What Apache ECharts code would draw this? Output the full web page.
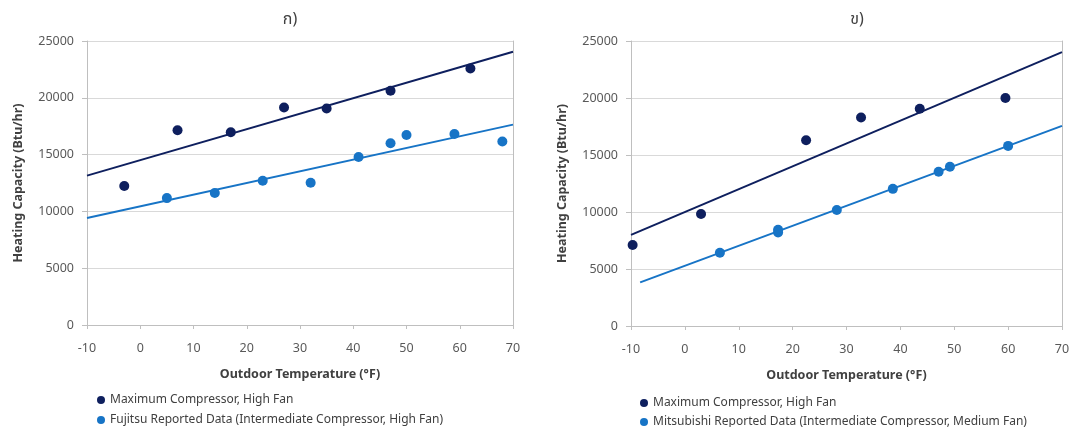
<!DOCTYPE html>
<html>
<head>
<meta charset="utf-8">
<script src="https://cdn.jsdelivr.net/npm/echarts@6/dist/echarts.min.js"></script>
<style>
html,body{margin:0;padding:0;background:#fff;}
#c{width:1076px;height:427px;}
</style>
</head>
<body>
<div id="c"></div>
<script>
// ---- data ----
const titles = ['ก)', 'ข)'];
const xTicks = [-10, 0, 10, 20, 30, 40, 50, 60, 70];
const yTicks = [0, 5000, 10000, 15000, 20000, 25000];
const xName = 'Outdoor Temperature (°F)';
const yName = 'Heating Capacity (Btu/hr)';

const nameMax = 'Maximum Compressor, High Fan';
const nameFujitsu = 'Fujitsu Reported Data (Intermediate Compressor, High Fan)';
const nameMitsu = 'Mitsubishi Reported Data (Intermediate Compressor, Medium Fan)';

// chart ก)
const aMaxX = [-3, 7, 17, 27, 35, 47, 62];
const aMaxY = [12230, 17140, 16970, 19150, 19060, 20620, 22580];
const aFujX = [5, 14, 23, 32, 41, 47, 50, 59, 68];
const aFujY = [11170, 11620, 12700, 12520, 14790, 16000, 16730, 16820, 16150];
const aMaxTrendX = [-10, 70];
const aMaxTrendY = [13150, 24060];
const aFujTrendX = [-10, 70];
const aFujTrendY = [9420, 17640];

// chart ข)
const bMaxX = [-9.7, 3, 22.5, 32.7, 43.6, 59.5];
const bMaxY = [7100, 9820, 16290, 18290, 19060, 20000];
const bMitX = [6.5, 17.3, 17.3, 28.2, 38.6, 47.1, 49.2, 60];
const bMitY = [6430, 8450, 8200, 10180, 12030, 13530, 13970, 15800];
const bMaxTrendX = [-10, 70];
const bMaxTrendY = [7990, 24030];
const bMitTrendX = [-8.3, 70];
const bMitTrendY = [3830, 17560];

// ---- styling ----
const DARK = '#0E1F5E';
const LIGHT = '#1774C6';
const FONT = '"Noto Sans", "Noto Sans Thai", "DejaVu Sans", sans-serif';
const zip = (xs, ys) => xs.map((x, i) => [x, ys[i]]);

const grids = [
  {left: 87, top: 41, width: 426, height: 284},
  {left: 631, top: 41, width: 431, height: 285}
];

function xAxis(gi) {
  return {
    type: 'value', gridIndex: gi, min: xTicks[0], max: xTicks[xTicks.length - 1], interval: 10,
    name: xName, nameLocation: 'middle', nameGap: 43,
    nameTextStyle: {fontFamily: FONT, fontSize: 12.5, fontWeight: 'bold', color: '#404040'},
    axisLine: {show: true, onZero: false, lineStyle: {color: '#BFBFBF', width: 1}},
    axisTick: {show: true, length: 4, lineStyle: {color: '#BFBFBF'}},
    axisLabel: {fontFamily: FONT, fontSize: 12.5, color: '#595959', margin: 17},
    splitLine: {show: false}
  };
}
function yAxis(gi) {
  return {
    type: 'value', gridIndex: gi, min: yTicks[0], max: yTicks[yTicks.length - 1], interval: 5000,
    name: yName, nameLocation: 'middle', nameGap: 62,
    nameTextStyle: {fontFamily: FONT, fontSize: 12.5, fontWeight: 'bold', color: '#404040'},
    axisLine: {show: true, onZero: false, lineStyle: {color: '#BFBFBF', width: 1}},
    axisTick: {show: true, length: 5, lineStyle: {color: '#BFBFBF'}},
    axisLabel: {fontFamily: FONT, fontSize: 12.5, color: '#595959', margin: 13,
                formatter: v => String(v)},
    splitLine: {show: true, lineStyle: {color: '#D9D9D9', width: 1}}
  };
}
function rightBorder(gi) {
  return {
    type: 'value', gridIndex: gi, position: 'right', min: yTicks[0], max: yTicks[yTicks.length - 1], interval: 5000,
    axisLine: {show: true, onZero: false, lineStyle: {color: '#BFBFBF', width: 1}},
    axisTick: {show: false}, axisLabel: {show: false}, splitLine: {show: false}
  };
}

function scatter(name, xi, yi, xs, ys, color) {
  return {
    name: name, type: 'scatter', xAxisIndex: xi, yAxisIndex: yi,
    data: zip(xs, ys), symbol: 'circle', symbolSize: 10,
    itemStyle: {color: color, opacity: 1}, z: 3
  };
}
function trend(name, xi, yi, xs, ys, color) {
  return {
    name: name, type: 'line', xAxisIndex: xi, yAxisIndex: yi,
    data: zip(xs, ys), showSymbol: false, symbol: 'none',
    lineStyle: {color: color, width: 2}, itemStyle: {color: color}, z: 2, silent: true
  };
}

const option = {
  backgroundColor: '#fff',
  animation: false,
  title: [
    {text: titles[0], left: 285, top: 6, textAlign: 'center',
     textStyle: {fontFamily: FONT, fontSize: 16, fontWeight: 'normal', color: '#404040'}},
    {text: titles[1], left: 852, top: 6, textAlign: 'center',
     textStyle: {fontFamily: FONT, fontSize: 16, fontWeight: 'normal', color: '#404040'}}
  ],
  legend: [
    {orient: 'vertical', left: 97, top: 394, width: 420, height: 60, padding: 0,
     itemWidth: 8, itemHeight: 8, itemGap: 8,
     icon: 'circle', data: [nameMax, nameFujitsu],
     textStyle: {fontFamily: FONT, fontSize: 12, color: '#404040'}},
    {orient: 'vertical', left: 640, top: 397, width: 430, height: 60, padding: 0,
     itemWidth: 8, itemHeight: 8, itemGap: 7,
     icon: 'circle', data: [nameMax, nameMitsu],
     textStyle: {fontFamily: FONT, fontSize: 12, color: '#404040'}}
  ],
  grid: grids,
  xAxis: [xAxis(0), xAxis(1)],
  yAxis: [yAxis(0), yAxis(1), rightBorder(0), rightBorder(1)],
  series: [
    trend('trendA1', 0, 0, aMaxTrendX, aMaxTrendY, DARK),
    trend('trendA2', 0, 0, aFujTrendX, aFujTrendY, LIGHT),
    scatter(nameMax, 0, 0, aMaxX, aMaxY, DARK),
    scatter(nameFujitsu, 0, 0, aFujX, aFujY, LIGHT),
    trend('trendB1', 1, 1, bMaxTrendX, bMaxTrendY, DARK),
    trend('trendB2', 1, 1, bMitTrendX, bMitTrendY, LIGHT),
    scatter(nameMax, 1, 1, bMaxX, bMaxY, DARK),
    scatter(nameMitsu, 1, 1, bMitX, bMitY, LIGHT)
  ]
};

const chart = echarts.init(document.getElementById('c'), null, {renderer: 'canvas'});
chart.setOption(option);
</script>
</body>
</html>
